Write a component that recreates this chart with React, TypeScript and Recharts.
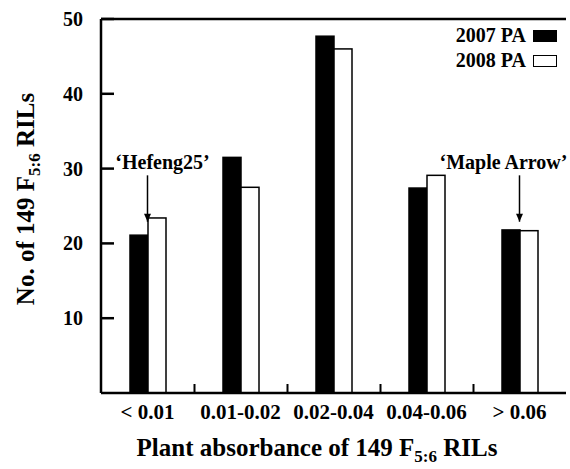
import React from "react";
import {
  Bar,
  BarChart,
  Legend,
  ReferenceLine,
  XAxis,
  YAxis,
} from "recharts";

const categories = ["< 0.01", "0.01-0.02", "0.02-0.04", "0.04-0.06", "> 0.06"];
const pa2007 = [21.1, 31.5, 47.7, 27.4, 21.8];
const pa2008 = [23.4, 27.5, 46.0, 29.1, 21.7];
const yTicks = [10, 20, 30, 40, 50];

const series = [
  { key: "pa2007", name: "2007 PA", fill: "#000000" },
  { key: "pa2008", name: "2008 PA", fill: "#ffffff" },
];

const annotations = [
  { category: "< 0.01", text: "\u2018Hefeng25\u2019", from: 29.1, to: 22.9, dx: 15 },
  { category: "> 0.06", text: "\u2018Maple Arrow\u2019", from: 29.1, to: 22.9, dx: -16 },
];

const data = categories.map((c, i) => ({
  name: c,
  pa2007: pa2007[i],
  pa2008: pa2008[i],
}));

const W = 570;
const H = 469;
const PLOT_LEFT = 101;
const PLOT_RIGHT = 566;
const AXIS_Y = 393;
const FONT = "'Liberation Serif', 'Times New Roman', serif";
const BAND = (PLOT_RIGHT - PLOT_LEFT) / categories.length;

const YTick = (props: any) => {
  const { y, payload } = props;
  return (
    <g>
      <line x1={PLOT_LEFT} x2={PLOT_LEFT + 13} y1={y} y2={y} stroke="#000" strokeWidth={2.5} />
      <text x={83} y={y + 7} textAnchor="end" fontFamily={FONT} fontWeight="bold" fontSize={20} fill="#000">
        {payload.value}
      </text>
    </g>
  );
};

const XTick = (props: any) => {
  const { x, payload } = props;
  return (
    <text x={x} y={419} textAnchor="middle" fontFamily={FONT} fontWeight="bold" fontSize={21} fill="#000">
      {payload.value}
    </text>
  );
};

const YLabel = () => (
  <text
    x={0}
    y={0}
    transform="translate(34, 199) rotate(-90)"
    textAnchor="middle"
    fontFamily={FONT}
    fontWeight="bold"
    fontSize={25}
    fill="#000"
  >
    No. of 149 F
    <tspan fontSize={17} dy={6}>5:6</tspan>
    <tspan dy={-6}> RILs</tspan>
  </text>
);

const XLabel = () => (
  <text x={317} y={456} textAnchor="middle" fontFamily={FONT} fontWeight="bold" fontSize={25} fill="#000">
    Plant absorbance of 149 F
    <tspan fontSize={17} dy={6}>5:6</tspan>
    <tspan dy={-6}> RILs</tspan>
  </text>
);

const arrowLabel = (text: string, dx: number) => (props: any) => {
  const { viewBox } = props;
  const x = viewBox.x;
  const top = viewBox.y;
  const bottom = viewBox.y + viewBox.height;
  return (
    <g>
      <polygon points={`${x - 3.5},${bottom - 8} ${x + 3.5},${bottom - 8} ${x},${bottom}`} fill="#000" />
      <text x={x + dx} y={top - 6} textAnchor="middle" fontFamily={FONT} fontWeight="bold" fontSize={20} fill="#000">
        {text}
      </text>
    </g>
  );
};

// right-hand bar of each group; also draws the small class-boundary mark on the axis
const barShape = (fill: string, withMark: boolean) => (props: any) => {
  const { x, y, width, height, index } = props;
  const bottom = y + height;
  const bx = x + width - 18 + BAND / 2;
  return (
    <g>
      <rect x={x} y={y} width={width} height={height} fill={fill} stroke="#000" strokeWidth={1.5} />
      {withMark && index < categories.length - 1 && (
        <rect x={bx - 1} y={bottom - 9} width={2} height={9} fill="#000" />
      )}
    </g>
  );
};

const LegendBox = () => (
  <div style={{ fontFamily: FONT, fontWeight: "bold", fontSize: 20, color: "#000" }}>
    {series.map((s) => (
      <div
        key={s.key}
        style={{ display: "flex", justifyContent: "flex-end", alignItems: "center", height: 25 }}
      >
        <span>{s.name}</span>
        <span
          style={{
            display: "inline-block",
            width: 22,
            height: 10,
            marginLeft: 7,
            background: s.fill,
            border: "1.5px solid #000",
          }}
        />
      </div>
    ))}
  </div>
);

export default function App() {
  return (
    <div style={{ position: "absolute", left: 0, top: 0, width: W, height: H, background: "#fff" }}>
      <BarChart
        width={W}
        height={H}
        data={data}
        margin={{ top: 19, right: W - PLOT_RIGHT, bottom: 0, left: 0 }}
        barGap={0}
        barSize={18}
      >
        <XAxis
          dataKey="name"
          height={H - AXIS_Y}
          axisLine={{ stroke: "#000", strokeWidth: 2.5 }}
          tickLine={false}
          tick={<XTick />}
          interval={0}
          label={<XLabel />}
        />
        <YAxis
          width={PLOT_LEFT}
          domain={[0, 50]}
          ticks={yTicks}
          axisLine={{ stroke: "#000", strokeWidth: 2.5 }}
          tickLine={false}
          tick={<YTick />}
          label={<YLabel />}
        />
        <ReferenceLine y={50} stroke="#000" strokeWidth={2.5} />
        {series.map((s, i) => (
          <Bar
            key={s.key}
            dataKey={s.key}
            name={s.name}
            fill={s.fill}
            stroke="#000"
            strokeWidth={1.5}
            shape={barShape(s.fill, i === series.length - 1)}
            isAnimationActive={false}
          />
        ))}
        {annotations.map((a) => (
          <ReferenceLine
            key={a.text}
            segment={[
              { x: a.category, y: a.from },
              { x: a.category, y: a.to },
            ]}
            stroke="#000"
            strokeWidth={1.5}
            label={arrowLabel(a.text, a.dx)}
          />
        ))}
        <Legend
          layout="horizontal"
          align="center"
          verticalAlign="middle"
          content={<LegendBox />}
          wrapperStyle={{ left: 370, top: 23, width: 187, height: 50 }}
        />
      </BarChart>
    </div>
  );
}
